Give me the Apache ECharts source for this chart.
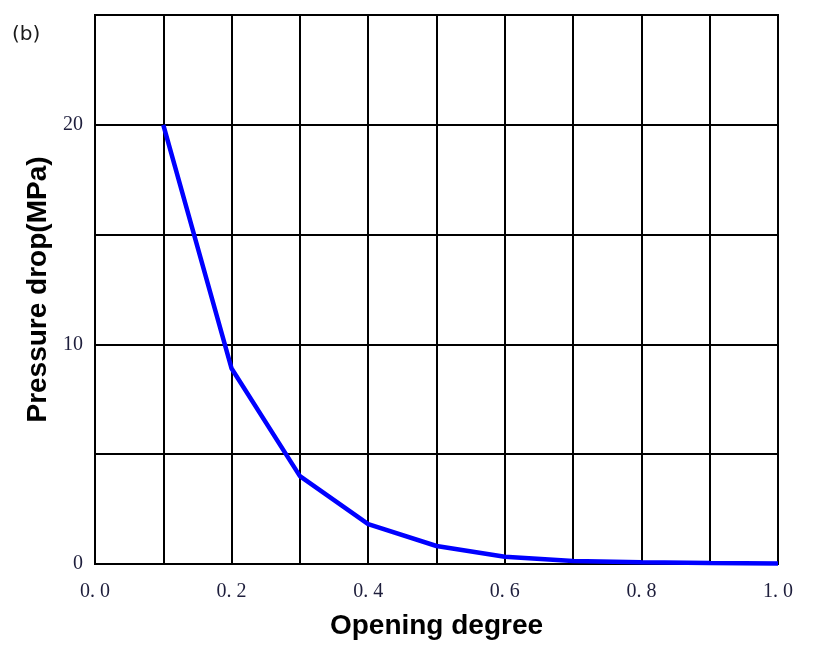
<!DOCTYPE html>
<html>
<head>
<meta charset="utf-8">
<script src="https://cdn.jsdelivr.net/npm/echarts@6/dist/echarts.min.js"></script>
<style>
  html, body { margin: 0; padding: 0; background: #fff; }
  #main { width: 833px; height: 665px; }
</style>
</head>
<body>
<div id="main"></div>
<script>
  // opening degree and pressure drop
  var openingDegree = [0.1, 0.2, 0.3, 0.4, 0.5, 0.6, 0.7, 0.8, 0.9, 1.0];
  var pressureDrop = [20, 8.9, 4.0, 1.82, 0.82, 0.33, 0.14, 0.08, 0.04, 0.02];
  var yLabels = [0, 10, 20];

  var points = openingDegree.map(function (x, i) { return [x, pressureDrop[i]]; });

  var myChart = echarts.init(document.getElementById('main'));
  var option = {
    backgroundColor: '#fff',
    animation: false,
    grid: {
      left: 95,
      right: 55,
      top: 15,
      bottom: 101,
      show: true,
      borderColor: '#000',
      borderWidth: 2
    },
    graphic: [{
      type: 'text',
      left: 12,
      top: 25,
      style: { text: '(b)', font: '20px "DejaVu Sans"', fill: '#1a1a1a' }
    }],
    xAxis: {
      type: 'value',
      min: 0,
      max: 1,
      interval: 0.1,
      name: 'Opening degree',
      nameLocation: 'middle',
      nameGap: 48,
      nameTextStyle: { fontFamily: 'Liberation Sans', fontWeight: 'bold', fontSize: 28, color: '#000' },
      axisLine: { lineStyle: { color: '#000', width: 2 } },
      axisTick: { show: false },
      axisLabel: {
        margin: 18,
        fontFamily: 'Liberation Serif',
        fontSize: 20,
        color: '#1e1e3c',
        formatter: function (v) {
          var n = Math.round(v * 10);
          if (n % 2 !== 0) return '';
          return (n / 10).toFixed(1).replace('.', '. ');
        }
      },
      splitLine: { show: true, lineStyle: { color: '#000', width: 2 } }
    },
    yAxis: {
      type: 'value',
      min: 0,
      max: 25,
      interval: 5,
      name: 'Pressure drop(MPa)',
      nameLocation: 'middle',
      nameGap: 41,
      nameTextStyle: { fontFamily: 'Liberation Sans', fontWeight: 'bold', fontSize: 28, color: '#000' },
      axisLine: { show: true, lineStyle: { color: '#000', width: 2 } },
      axisTick: { show: false },
      axisLabel: {
        margin: 12,
        fontFamily: 'Liberation Serif',
        fontSize: 20,
        color: '#1e1e3c',
        formatter: function (v) {
          return yLabels.indexOf(v) >= 0 ? String(v) : '';
        }
      },
      splitLine: { show: true, lineStyle: { color: '#000', width: 2 } }
    },
    series: [{
      type: 'line',
      data: points,
      showSymbol: false,
      smooth: false,
      lineStyle: { color: '#0000ff', width: 4.5 },
      itemStyle: { color: '#0000ff' }
    }]
  };
  myChart.setOption(option);
</script>
</body>
</html>
